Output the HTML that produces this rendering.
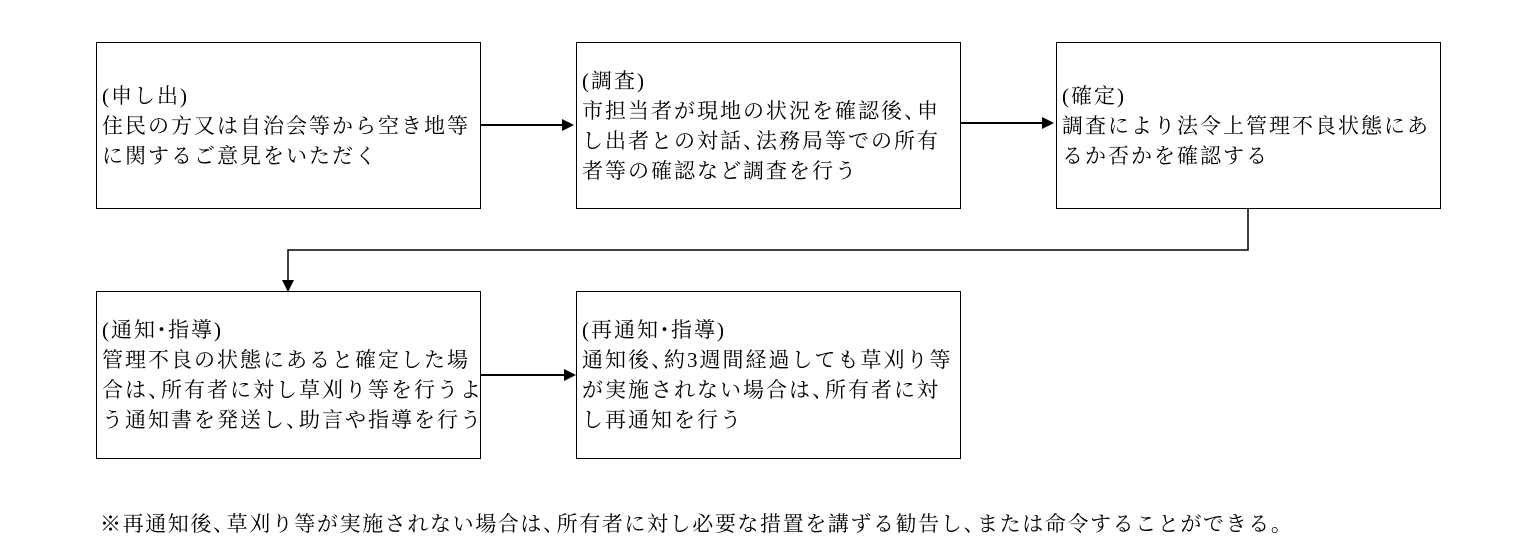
<!DOCTYPE html>
<html><head><meta charset="utf-8"><style>
body{margin:0;width:1537px;height:538px;background:#fff;position:relative;overflow:hidden;font-family:"Liberation Serif","Noto Serif CJK SC","Noto Sans CJK JP",serif;color:#000}
.b{position:absolute;width:385px;height:167px;border:1px solid #000;box-sizing:border-box;display:flex;align-items:center;padding-left:5px;font-size:21px;line-height:30px;white-space:nowrap;letter-spacing:2px}
.n{position:absolute;left:100px;top:508px;font-size:21px;white-space:nowrap;letter-spacing:1.6px}
i{font-style:normal;margin-right:-10px}
.n i{margin-right:-9px}
b{font-weight:normal;margin:0 -6px}
svg{position:absolute;left:0;top:0}
</style></head><body>
<div class="b" style="left:96px;top:42px"><div>(申し出)<br>住民の方又は自治会等から空き地等<br>に関するご意見をいただく</div></div>
<div class="b" style="left:576px;top:42px"><div>(調査)<br>市担当者が現地の状況を確認後<i>、</i>申<br>し出者との対話<i>、</i>法務局等での所有<br>者等の確認など調査を行う</div></div>
<div class="b" style="left:1056px;top:42px"><div>(確定)<br>調査により法令上管理不良状態にあ<br>るか否かを確認する</div></div>
<div class="b" style="left:96px;top:291px;height:168px"><div>(通知<b>・</b>指導)<br>管理不良の状態にあると確定した場<br>合は<i>、</i>所有者に対し草刈り等を行うよ<br>う通知書を発送し<i>、</i>助言や指導を行う</div></div>
<div class="b" style="left:576px;top:291px;height:168px"><div>(再通知<b>・</b>指導)<br>通知後<i>、</i>約3週間経過しても草刈り等<br>が実施されない場合は<i>、</i>所有者に対<br>し再通知を行う</div></div>
<div class="n">※再通知後<i>、</i>草刈り等が実施されない場合は<i>、</i>所有者に対し必要な措置を講ずる勧告し<i>、</i>または命令することができる。</div>
<svg width="1537" height="538">
<g stroke="#000" stroke-width="2" fill="none">
<line x1="480" y1="125" x2="564" y2="125"/>
<line x1="960" y1="123" x2="1044" y2="123"/>
<polyline points="1248,208 1248,250 288,250 288,281" stroke-width="1.5"/>
<line x1="480" y1="375" x2="564" y2="375"/>
</g>
<g fill="#000">
<polygon points="574,125 562,119 562,131"/>
<polygon points="1054,123 1042,117 1042,129"/>
<polygon points="288,292 282,280 294,280"/>
<polygon points="576,375 564,369 564,381"/>
</g>
</svg>
</body></html>
